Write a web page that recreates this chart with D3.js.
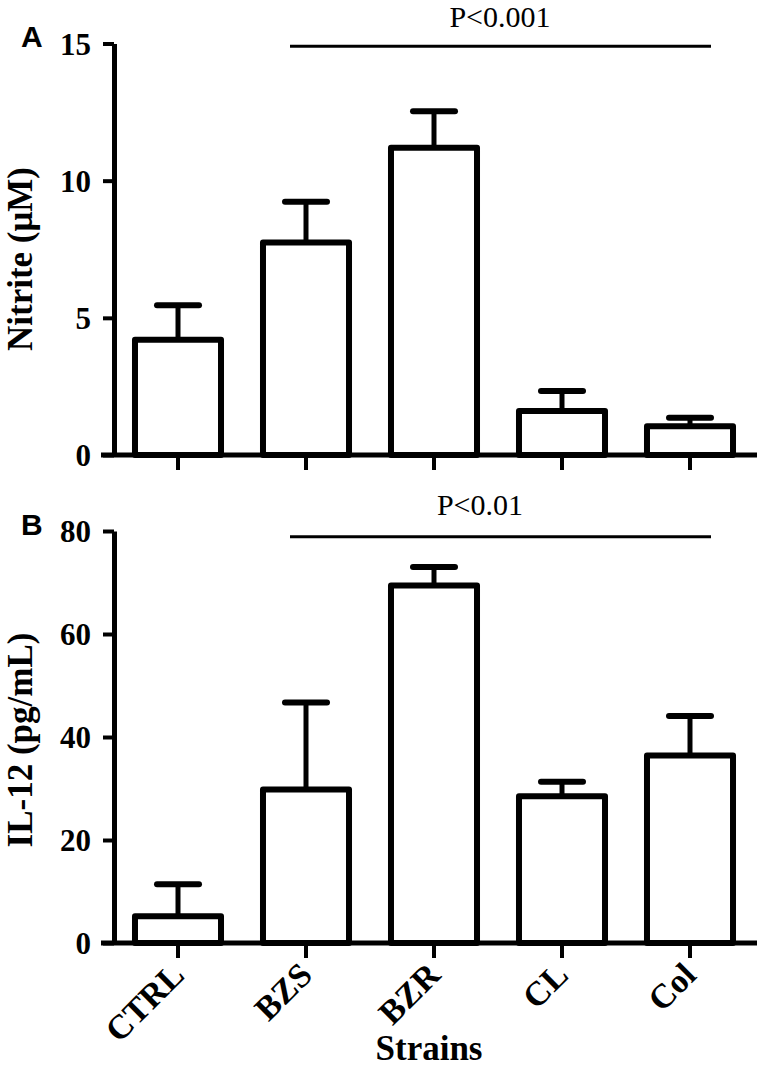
<!DOCTYPE html>
<html>
<head>
<meta charset="utf-8">
<script src="https://cdn.jsdelivr.net/npm/d3@7"></script>
<style>
  html, body { margin: 0; padding: 0; background: #fff; }
  svg { display: block; }
  .serif { font-family: "Liberation Serif", "Times New Roman", Times, "DejaVu Serif", serif !important; }
  .sans { font-family: "Liberation Sans", Arial, Helvetica, sans-serif !important; }
</style>
</head>
<body>
<svg id="chart" width="757" height="1067"></svg>
<script>
// ---- data ----
const strains = ["CTRL", "BZS", "BZR", "CL", "Col"];
const nitriteMean = [4.2, 7.75, 11.2, 1.6, 1.05];
const nitriteSem  = [1.26, 1.48, 1.33, 0.73, 0.31];
const il12Mean = [5.2, 29.8, 69.4, 28.5, 36.4];
const il12Sem  = [6.2, 16.9, 3.6, 2.8, 7.7];
const nitriteTicks = [0, 5, 10, 15];
const il12Ticks = [0, 20, 40, 60, 80];
const pTextA = "P<0.001";
const pTextB = "P<0.01";
const sigLevelA = 14.9;
const sigLevelB = 78.9;

const svg = d3.select("#chart");

const x = d3.scaleBand().domain(strains).range([114, 754])
  .paddingInner(0.328).paddingOuter(0.164);
const bw = x.bandwidth();

function panel(opts) {
  const { y, means, sems, ticks, letter, letterY, title, titleY, pText, pX, pY, sigLevel, showLabels } = opts;
  const y0 = y(0);
  const g = svg.append("g");

  // bars
  g.selectAll("rect.bar").data(strains).join("rect")
    .attr("class", "bar")
    .attr("x", d => x(d))
    .attr("width", bw)
    .attr("y", (d, i) => y(means[i]))
    .attr("height", (d, i) => y0 - y(means[i]))
    .attr("fill", "#fff")
    .attr("stroke", "#000")
    .attr("stroke-width", 6)
    .attr("stroke-linejoin", "round");

  // error bars (upper only)
  g.selectAll("line.err").data(strains).join("line")
    .attr("class", "err")
    .attr("x1", d => x(d) + bw / 2).attr("x2", d => x(d) + bw / 2)
    .attr("y1", (d, i) => y(means[i]))
    .attr("y2", (d, i) => y(means[i] + sems[i]))
    .attr("stroke", "#000").attr("stroke-width", 5);
  g.selectAll("line.cap").data(strains).join("line")
    .attr("class", "cap")
    .attr("x1", d => x(d) + bw / 2 - 21).attr("x2", d => x(d) + bw / 2 + 21)
    .attr("y1", (d, i) => y(means[i] + sems[i]))
    .attr("y2", (d, i) => y(means[i] + sems[i]))
    .attr("stroke", "#000").attr("stroke-width", 6).attr("stroke-linecap", "round");

  // y axis
  const ya = g.append("g").attr("transform", "translate(114,0)")
    .call(d3.axisLeft(y).tickValues(ticks).tickSize(11).tickSizeOuter(0).tickPadding(12));
  ya.attr("font-family", null);
  ya.select(".domain").attr("stroke-width", 5);
  ya.selectAll(".tick line").attr("stroke-width", 4);
  ya.selectAll(".tick text")
    .attr("class", "serif")
    .attr("font-weight", "bold").attr("font-size", 31)
    .attr("dy", "0.34em");

  // x axis
  const xa = g.append("g").attr("transform", `translate(0,${y0})`)
    .call(d3.axisBottom(x).tickSize(15).tickSizeOuter(0));
  xa.attr("font-family", null);
  xa.select(".domain").remove();
  xa.selectAll(".tick line").attr("stroke-width", 4);
  if (showLabels) {
    xa.selectAll(".tick text")
      .attr("class", "serif")
      .attr("font-weight", "bold").attr("font-size", 34)
      .attr("x", 0).attr("y", 0).attr("dy", 0)
      .attr("transform", "translate(8,34) rotate(-45)")
      .style("text-anchor", "end");
  } else {
    xa.selectAll(".tick text").remove();
  }
  g.append("line")
    .attr("x1", 101).attr("x2", 757).attr("y1", y0).attr("y2", y0)
    .attr("stroke", "#000").attr("stroke-width", 5);

  // significance line & text
  g.append("line")
    .attr("x1", x("BZS") + bw / 2 - 16).attr("x2", x("Col") + bw / 2 + 21)
    .attr("y1", y(sigLevel)).attr("y2", y(sigLevel))
    .attr("stroke", "#000").attr("stroke-width", 3);
  g.append("text").attr("x", pX).attr("y", pY)
    .attr("class", "serif")
    .attr("text-anchor", "middle")
    .attr("font-size", 30)
    .text(pText);

  // panel letter
  g.append("text").attr("x", 21).attr("y", letterY)
    .attr("class", "sans")
    .attr("font-weight", "bold").attr("font-size", 30)
    .text(letter);

  // y title
  g.append("text")
    .attr("class", "serif")
    .attr("transform", `translate(32,${titleY}) rotate(-90)`)
    .attr("text-anchor", "middle")
    .attr("font-weight", "bold").attr("font-size", 35)
    .text(title);
}

const yA = d3.scaleLinear().domain([0, 15]).range([455, 43.5]);
const yB = d3.scaleLinear().domain([0, 80]).range([943, 531]);

panel({ y: yA, means: nitriteMean, sems: nitriteSem, ticks: nitriteTicks,
  letter: "A", letterY: 47, title: "Nitrite (\u03bcM)", titleY: 259,
  pText: pTextA, pX: 500, pY: 27, sigLevel: sigLevelA, showLabels: false });

panel({ y: yB, means: il12Mean, sems: il12Sem, ticks: il12Ticks,
  letter: "B", letterY: 535, title: "IL-12 (pg/mL)", titleY: 740,
  pText: pTextB, pX: 480, pY: 515, sigLevel: sigLevelB, showLabels: true });

svg.append("text")
  .attr("class", "serif")
  .attr("x", 429).attr("y", 1060)
  .attr("text-anchor", "middle")
  .attr("font-weight", "bold").attr("font-size", 35)
  .text("Strains");
</script>
</body>
</html>
